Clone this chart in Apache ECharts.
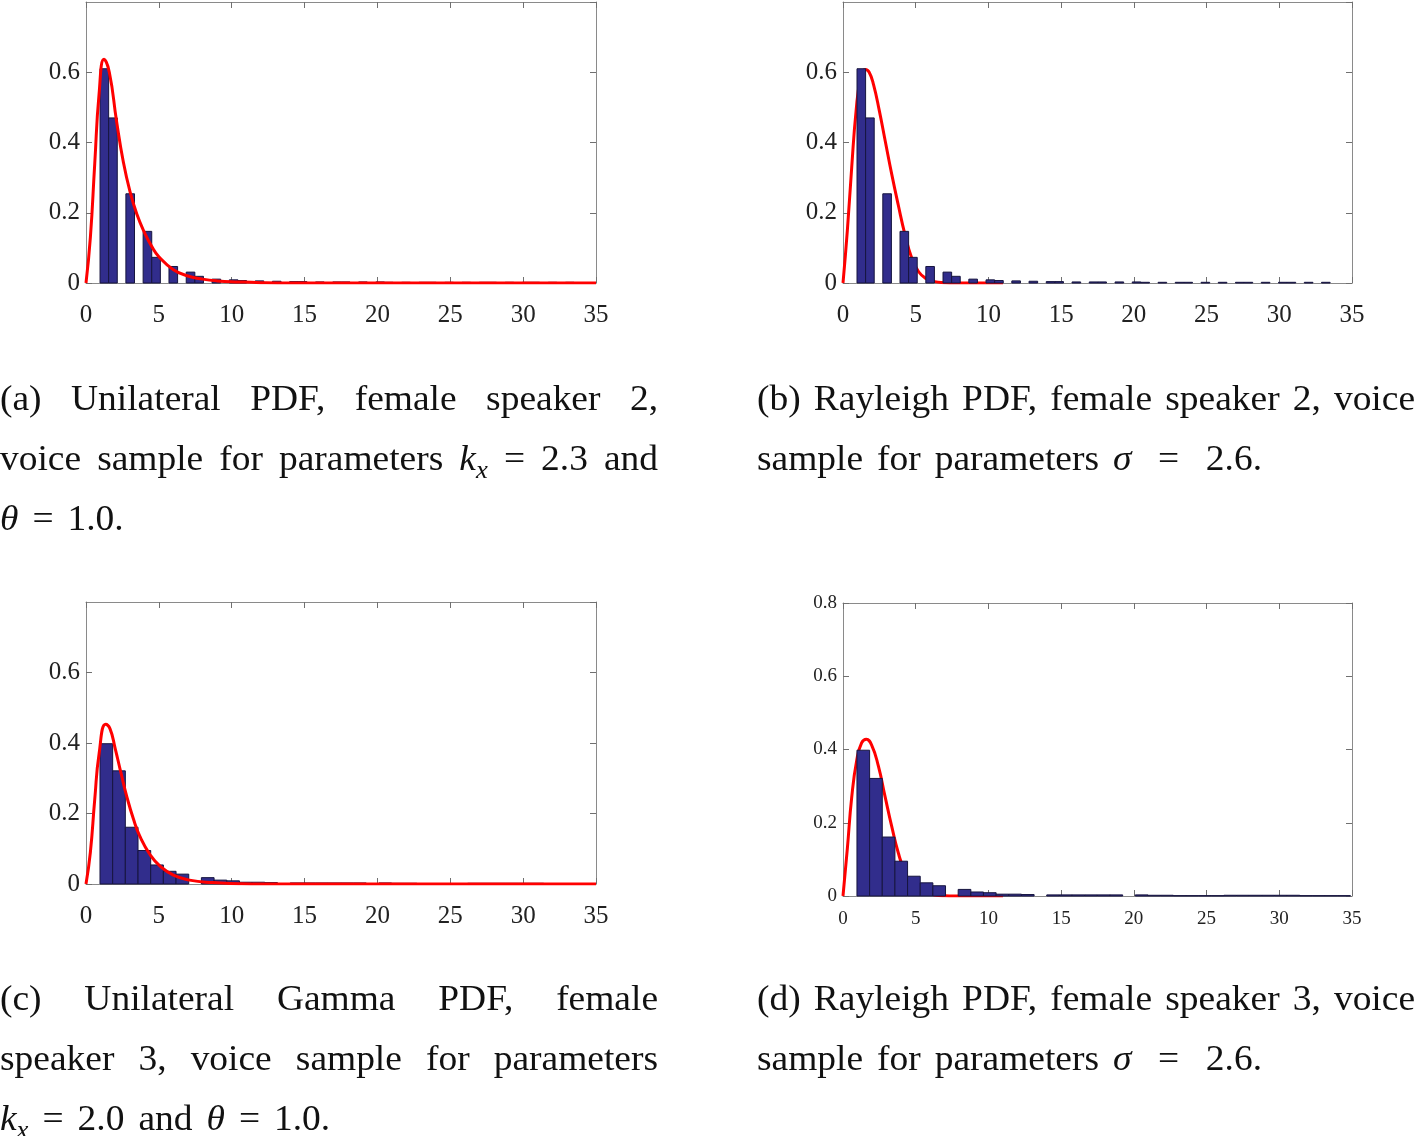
<!DOCTYPE html>
<html><head><meta charset="utf-8">
<script src="https://cdn.jsdelivr.net/npm/echarts@6/dist/echarts.min.js"></script>
<style>html,body{margin:0;padding:0;background:#fff}#chart{width:1415px;height:1136px}</style>
</head><body><div id="chart"></div>
<script>
// ---------------- data ----------------
const xTickValues = [0, 5, 10, 15, 20, 25, 30, 35];
const yTickValues = [0, 0.2, 0.4, 0.6, 0.8];

// histogram, female speaker 2 (panels a, b)
const histStartSpeaker2 = 0.963;
const binWidthSpeaker2 = 0.5915;
const histSpeaker2 = [0.61, 0.47, 0, 0.254, 0, 0.147, 0.073, 0, 0.047, 0, 0.031, 0.019, 0, 0.011, 0,
  0.009, 0.007, 0, 0.006, 0, 0.005, 0, 0.004, 0.004, 0, 0.003, 0, 0.003, 0.003, 0, 0.003, 0, 0.003, 0.002,
  0, 0.002, 0, 0.002, 0.002, 0, 0.002, 0, 0.002, 0, 0.002, 0.002, 0, 0.002, 0, 0.002, 0.002, 0, 0.002, 0, 0.002];

// histogram, female speaker 3 (panels c, d)
const histStartSpeaker3 = 0.96;
const binWidthSpeaker3 = 0.87;
const histSpeaker3 = [0.398, 0.321, 0.161, 0.095, 0.054, 0.036, 0.028, 0, 0.018, 0.011, 0.009, 0.005, 0.005,
  0.004, 0, 0.003, 0.003, 0.003, 0.003, 0.003, 0.003, 0, 0.003, 0.002, 0.002, 0.001, 0.001, 0.001, 0.001,
  0.002, 0.002, 0.002, 0.002, 0.002, 0.002, 0.001, 0.001, 0.001, 0.001];

// fitted PDF curves [x, density]
const curveGammaA = [[0, 0], [0.3, 0.13], [0.6, 0.34], [0.9, 0.54], [1.24, 0.637], [1.6, 0.6], [2.1, 0.46],
  [2.56, 0.345], [3.02, 0.26], [3.5, 0.195], [4.0, 0.145], [4.5, 0.105], [5.0, 0.075], [6.0, 0.038],
  [7.0, 0.02], [8.0, 0.011], [9.0, 0.006], [10.5, 0.003], [12, 0.001], [14, 0], [35, 0]];
const curveRayleighB = [[0, 0], [0.3, 0.15], [0.6, 0.33], [0.9, 0.49], [1.2, 0.58], [1.55, 0.608], [1.8, 0.6],
  [2.1, 0.565], [2.5, 0.49], [2.9, 0.405], [3.35, 0.31], [3.8, 0.222], [4.26, 0.138], [4.72, 0.072],
  [5.2, 0.032], [5.7, 0.013], [6.3, 0.004], [7.0, 0.001], [7.6, 0], [11.0, 0]];
const curveGammaC = [[0, 0], [0.3, 0.09], [0.6, 0.24], [0.9, 0.37], [1.35, 0.453], [1.65, 0.44], [2.0, 0.385],
  [2.4, 0.315], [2.8, 0.248], [3.25, 0.185], [3.7, 0.135], [4.4, 0.083], [5.1, 0.05], [6.0, 0.025],
  [7.1, 0.011], [8.7, 0.004], [10.5, 0.001], [12, 0], [35, 0]];
const curveRayleighD = [[0, 0], [0.3, 0.13], [0.6, 0.27], [0.95, 0.372], [1.28, 0.418], [1.6, 0.428],
  [1.97, 0.412], [2.43, 0.355], [2.89, 0.272], [3.35, 0.19], [3.8, 0.118], [4.26, 0.064], [4.72, 0.031],
  [5.4, 0.011], [6.3, 0.003], [7.0, 0.0005], [7.6, 0], [11.0, 0]];

// captions ($...$ = math)
const captionA = ['(a) Unilateral PDF, female speaker 2,', 'voice sample for parameters $k_x$ $=$ 2.3 and', '$\u03b8$ $=$ 1.0.'];
const captionB = ['(b) Rayleigh PDF, female speaker 2, voice', 'sample for parameters $\u03c3$ $=$ 2.6.'];
const captionC = ['(c) Unilateral Gamma PDF, female', 'speaker 3, voice sample for parameters', '$k_x$ $=$ 2.0 and $\u03b8$ $=$ 1.0.'];
const captionD = ['(d) Rayleigh PDF, female speaker 3, voice', 'sample for parameters $\u03c3$ $=$ 2.6.'];

// ---------------- layout / style ----------------
const panels = [
  { grid: { left: 86, top: 2, width: 510, height: 281 }, hist: [histStartSpeaker2, binWidthSpeaker2, histSpeaker2], curve: curveGammaA, curveOnTop: true, labelSize: 25, xMargin: 20, showMax: false },
  { grid: { left: 843, top: 2, width: 509, height: 281 }, hist: [histStartSpeaker2, binWidthSpeaker2, histSpeaker2], curve: curveRayleighB, curveOnTop: false, labelSize: 25, xMargin: 20, showMax: false },
  { grid: { left: 86, top: 602, width: 510, height: 282 }, hist: [histStartSpeaker3, binWidthSpeaker3, histSpeaker3], curve: curveGammaC, curveOnTop: true, labelSize: 25, xMargin: 20, showMax: false },
  { grid: { left: 843, top: 603, width: 509, height: 293 }, hist: [histStartSpeaker3, binWidthSpeaker3, histSpeaker3], curve: curveRayleighD, curveOnTop: false, labelSize: 19, xMargin: 14, showMax: true }
];
// widths: number = justify to that width; 'math:N' = stretch only the gaps around '=' to reach N; null = natural
const captionBlocks = [
  { lines: captionA, x: 0, baseline: 413, widths: [658, 658, null] },
  { lines: captionB, x: 757, baseline: 413, widths: [658, 'math:505'] },
  { lines: captionC, x: 0, baseline: 1013, widths: [658, 658, null] },
  { lines: captionD, x: 757, baseline: 1013, widths: [658, 'math:505'] }
];
const LINE_PITCH = 60;
const CAP_SIZE = 35;
const CAP_STRETCH = 1.07;
const NATURAL_GAP = 14;
const CAP_FAMILY = 'Liberation Serif';
const AXIS_COLOR = '#8a8a8a';
const TICK_COLOR = '#707070';
const LABEL_COLOR = '#222';
const BAR_FILL = '#312d8c';
const BAR_EDGE = '#17153f';

// ---------------- build ----------------
const chart = echarts.init(document.getElementById('chart'), null, { renderer: 'canvas' });

const grids = [], xAxes = [], yAxes = [], series = [];
panels.forEach((p, i) => {
  grids.push(Object.assign({ containLabel: false }, p.grid));
  const lab = { fontFamily: CAP_FAMILY, fontSize: p.labelSize, color: LABEL_COLOR };
  const common = {
    gridIndex: i, type: 'value', splitLine: { show: false },
    axisLine: { show: true, onZero: false, lineStyle: { color: AXIS_COLOR, width: 1 } },
    axisTick: { show: true, inside: true, length: 6, lineStyle: { color: TICK_COLOR, width: 1 } }
  };
  const xr = { min: xTickValues[0], max: xTickValues[xTickValues.length - 1], interval: xTickValues[1] - xTickValues[0] };
  const yr = { min: yTickValues[0], max: yTickValues[yTickValues.length - 1], interval: yTickValues[1] - yTickValues[0] };
  xAxes.push(Object.assign({}, common, xr, { position: 'bottom', axisLabel: Object.assign({ margin: p.xMargin }, lab) }));
  xAxes.push(Object.assign({}, common, xr, { position: 'top', axisLabel: { show: false } }));
  yAxes.push(Object.assign({}, common, yr, {
    position: 'left',
    axisLabel: Object.assign({ margin: 6, showMaxLabel: p.showMax, formatter: v => (v === 0 ? '0' : v.toFixed(1)) }, lab)
  }));
  yAxes.push(Object.assign({}, common, yr, { position: 'right', axisLabel: { show: false } }));
  const [start, w, heights] = p.hist;
  const table = heights.map((h, k) => [start + k * w, start + (k + 1) * w, h]).filter(d => d[2] > 0);
  series.push({
    type: 'custom', xAxisIndex: 2 * i, yAxisIndex: 2 * i, z: 2,
    encode: { x: [0, 1], y: 2 },
    data: table,
    renderItem: (params, api) => {
      const a = api.coord([api.value(0), api.value(2)]);
      const b = api.coord([api.value(1), 0]);
      return { type: 'rect', shape: { x: a[0], y: a[1], width: b[0] - a[0], height: b[1] - a[1] },
        style: { fill: BAR_FILL, stroke: BAR_EDGE, lineWidth: 1 } };
    }
  });
  series.push({
    type: 'line', xAxisIndex: 2 * i, yAxisIndex: 2 * i, z: p.curveOnTop ? 3 : 1,
    data: p.curve, smooth: 0.5, showSymbol: false, symbol: 'none',
    lineStyle: { color: '#ff0000', width: 3 }
  });
});

// captions as justified words
const mctx = document.createElement('canvas').getContext('2d');
const isLetter = ch => /[A-Za-z\u0370-\u03ff]/.test(ch);
function segmentsOf(word) {
  if (word[0] === '$') {
    const body = word.slice(1, -1), out = [];
    for (let i = 0; i < body.length; i++) {
      const ch = body[i];
      if (ch === '_') { out.push({ text: body[i + 1], italic: isLetter(body[i + 1]), sub: true }); i++; continue; }
      out.push({ text: ch, italic: isLetter(ch), sub: false });
    }
    return out;
  }
  return [{ text: word, italic: false, sub: false }];
}
const segSize = s => (s.sub ? Math.round(CAP_SIZE * 0.7) : CAP_SIZE);
function segWidth(s) {
  mctx.font = (s.italic ? 'italic ' : '') + segSize(s) + 'px "' + CAP_FAMILY + '"';
  return mctx.measureText(s.text).width;
}
const graphics = [];
captionBlocks.forEach(block => {
  block.lines.forEach((line, li) => {
    const raw = line.split(' ');
    const words = raw.map(wd => {
      const segs = segmentsOf(wd);
      let off = 0;
      segs.forEach(s => { s.x = off; s.w = segWidth(s); off += s.w; });
      return { segs, width: off * CAP_STRETCH, isEq: wd === '$=$' };
    });
    const total = words.reduce((a, b) => a + b.width, 0);
    const spec = block.widths[li];
    const n = words.length - 1;
    const gaps = new Array(Math.max(n, 0)).fill(NATURAL_GAP);
    if (typeof spec === 'number' && n > 0) {
      gaps.fill((spec - total) / n);
    } else if (typeof spec === 'string' && spec.startsWith('math:')) {
      const target = parseFloat(spec.slice(5));
      const idx = [];
      for (let g = 0; g < n; g++) if (words[g].isEq || words[g + 1].isEq) idx.push(g);
      const normal = (n - idx.length) * NATURAL_GAP;
      const eqGap = (target - total - normal) / idx.length;
      idx.forEach(g => { gaps[g] = eqGap; });
    }
    const baseline = block.baseline + li * LINE_PITCH;
    let x = block.x;
    words.forEach((wd, wi) => {
      graphics.push({
        type: 'group', x: x, y: 0, scaleX: CAP_STRETCH,
        children: wd.segs.map(s => ({
          type: 'text', x: s.x, y: baseline - 0.3375 * segSize(s) + (s.sub ? CAP_SIZE * 0.2 : 0),
          style: { text: s.text, fontFamily: CAP_FAMILY, fontSize: segSize(s), fontStyle: s.italic ? 'italic' : 'normal',
            fill: '#111', align: 'left', verticalAlign: 'middle' }
        }))
      });
      x += wd.width + (wi < n ? gaps[wi] : 0);
    });
  });
});

chart.setOption({
  animation: false,
  backgroundColor: '#ffffff',
  grid: grids, xAxis: xAxes, yAxis: yAxes, series: series,
  graphic: graphics
});
</script></body></html>
